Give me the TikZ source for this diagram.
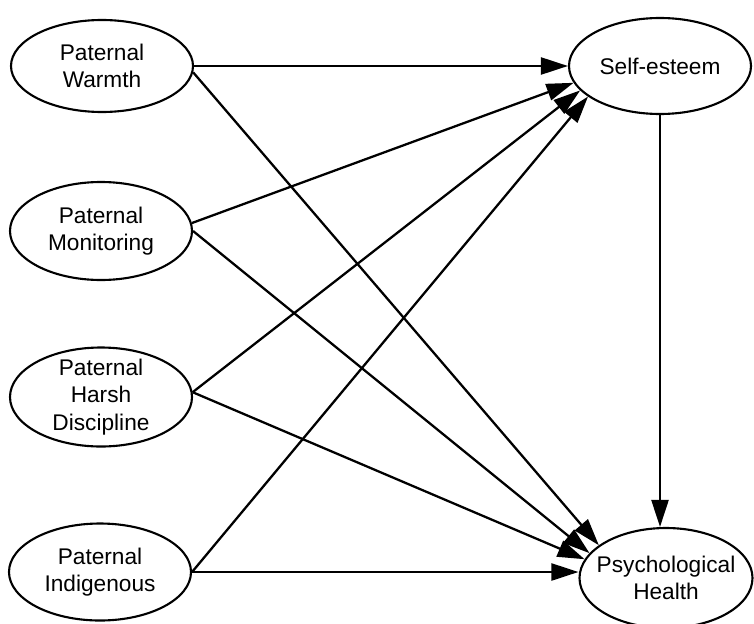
\documentclass[tikz,border=0pt]{standalone}
\usepackage{fontspec}
\setmainfont{Liberation Sans}
\usetikzlibrary{arrows.meta,shapes.geometric,positioning}

\begin{document}
\begin{tikzpicture}[>={Triangle[length=0.54cm,width=0.34cm]},
 font=\fontsize{12.9}{15.5}\selectfont,
 construct/.style={ellipse,draw,line width=1.2pt,inner sep=-6pt,align=center,
  minimum width=3.64cm,minimum height=#1},
 construct/.default=1.94cm,
 arr/.style={->,line width=1.3pt}]
\useasboundingbox (0,0) rectangle (15.08,12.46);
% predictors
\node[construct=1.84cm] (W) at (2.04,11.14) {Paternal\\Warmth};
\node[construct=1.96cm] (M) at (2.02,7.84) {Paternal\\Monitoring};
\node[construct=1.98cm] (H) at (2.02,4.52) {Paternal\\Harsh\\Discipline};
\node[construct=1.94cm] (I) at (2.00,1.02) {Paternal\\Indigenous};
% mediator and outcome
\node[construct=1.92cm] (SE) at (13.2,11.14) {Self-esteem};
\node[construct=2cm,minimum width=3.46cm] (PH) at (13.32,0.90) {Psychological\\Health};
\draw[arr] (W.east) -- (SE.west);
\draw[arr] (W.-4) -- (PH.154);
\draw[arr] (M.5) -- (SE.191);
\draw[arr] (M.east) -- (PH.162);
\draw[arr] (H.3) -- (SE.197);
\draw[arr] (H.3) -- (PH.167);
\draw[arr] (I.east) -- (SE.203);
\draw[arr] (I.east) -- (I.east -| PH.west);
\draw[arr] (SE.south) -- (SE.south |- PH.north);
\end{tikzpicture}
\end{document}
